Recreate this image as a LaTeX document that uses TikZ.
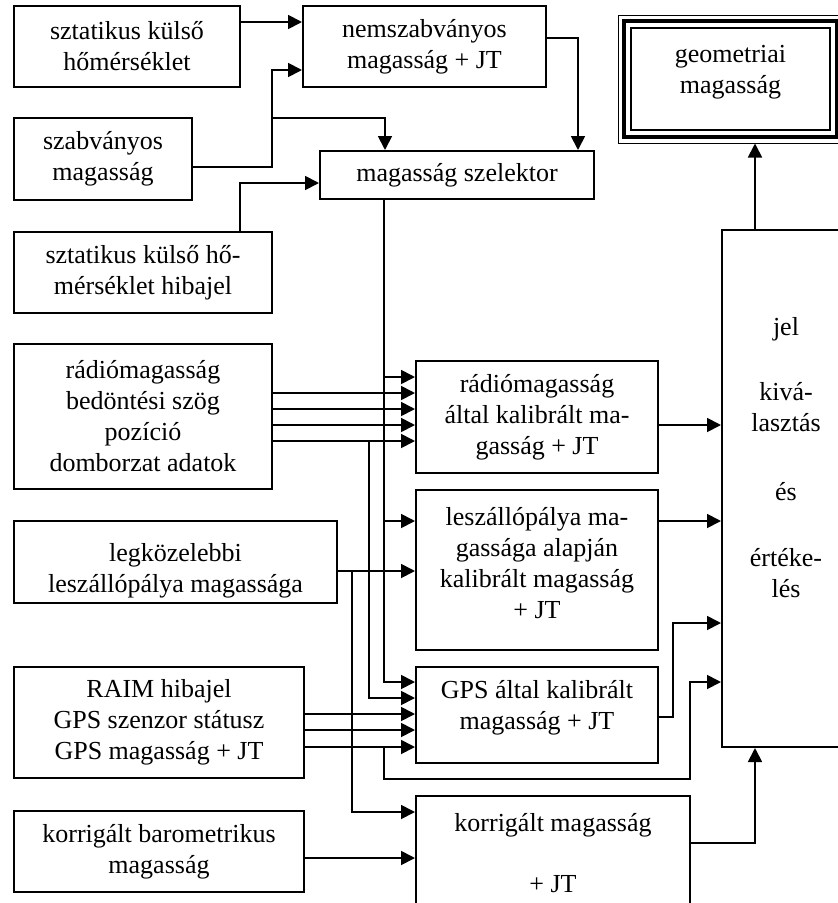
\documentclass[tikz,border=0pt]{standalone}
\usepackage{fontspec}
\setmainfont{Liberation Serif}
\usetikzlibrary{arrows.meta}
\begin{document}
\begin{tikzpicture}[x=1pt,y=-1pt,
  txt/.style={align=center, inner sep=0pt, font=\fontsize{26}{31}\selectfont},
  box/.style={txt, draw, line width=2pt},
  conn/.style={line width=1.8pt},
  arr/.style={conn, -{Triangle[length=14pt,width=14pt]}},
]
\useasboundingbox (0,0) rectangle (838,903);

% left column
\node[box, minimum width=226pt, minimum height=81pt] (s1) at (127,46.5) {sztatikus külső\\hőmérséklet};
\node[box, minimum width=178pt, minimum height=82pt] (s2) at (103,159) {szabványos\\magasság};
\node[box, minimum width=258pt, minimum height=81pt] (s3) at (143,272.5) {sztatikus külső hő-\\mérséklet hibajel};
\node[box, minimum width=258pt, minimum height=145pt] (radio) at (143,416.5) {rádiómagasság\\bedöntési szög\\pozíció\\domborzat adatok};
\node[box, minimum width=323pt, minimum height=82pt] (lsz) at (175.5,562) {};
\node[txt] (lsztext) at (175.5,571) {legközelebbi\\leszállópálya magassága};
\node[box, minimum width=290pt, minimum height=111pt] (gps) at (159,722.5) {RAIM hibajel\\GPS szenzor státusz\\GPS magasság + JT};
\node[box, minimum width=290pt, minimum height=81pt] (baro) at (159,851.5) {korrigált barometrikus\\magasság};

% middle column
\node[box, minimum width=243pt, minimum height=81pt] (ns) at (424.5,46.5) {nemszabványos\\magasság + JT};
\node[box, minimum width=274pt, minimum height=48pt] (sel) at (457,175) {magasság szelektor};
\node[box, minimum width=242pt, minimum height=112pt] (rcal) at (537,417) {rádiómagasság\\által kalibrált ma-\\gasság + JT};
\node[box, minimum width=242pt, minimum height=160pt] (lcal) at (537,570) {};
\node[txt] (lcaltext) at (537,563) {leszállópálya ma-\\gassága alapján\\kalibrált magasság\\+ JT};
\node[box, minimum width=242pt, minimum height=96pt] (gcal) at (537,715) {};
\node[txt] (gcaltext) at (537,708) {GPS által kalibrált\\magasság + JT};
\node[box, minimum width=274pt, minimum height=114pt] (korr) at (553,853) {korrigált magasság\\[30pt]+ JT};

% right column
\node[box, line width=1pt, minimum width=225pt, minimum height=128pt] (geo) at (730.5,79) {};
\draw[line width=4pt] ([shift={(6.5,6.5)}]geo.north west) rectangle ([shift={(-6.5,-6.5)}]geo.south east);
\draw[line width=1.2pt] ([shift={(13.5,13.5)}]geo.north west) rectangle ([shift={(-13.5,-13.5)}]geo.south east);
\node[txt] (geotext) at (730.5,72) {geometriai\\magasság};
\node[box, minimum width=128pt, minimum height=517pt] (jel) at (786,488.5) {};
\node[txt] (jeltext) at (786,458) {jel\\[34pt]kivá-\\lasztás\\[38pt]és\\[35pt]értéke-\\lés};

% top wiring
\draw[arr] (s1.east |- 0,22) -- (ns.west |- 0,22);
\draw[arr] (s2.east |- 0,167) -| (272,70) -- (ns.west |- 0,70);
\draw[arr] (272,118) -| (385,0 |- sel.north);
\draw[arr] (240,0 |- s3.north) |- (sel.west |- 0,183);
\draw[arr] (ns.east |- 0,38) -| (578,0 |- sel.north);

% selector output
\draw[arr] (384,0 |- sel.south) |- (gcal.west |- 0,682);
\draw[arr] (384,377) -- (rcal.west |- 0,377);
\draw[arr] (384,521) -- (lcal.west |- 0,521);

% radio inputs
\foreach \yy in {393,409,425,441} \draw[arr] (radio.east |- 0,\yy) -- (rcal.west |- 0,\yy);
\draw[arr] (369,441) |- (gcal.west |- 0,698);

% runway
\draw[arr] (lsz.east |- 0,571) -- (lcal.west |- 0,571);
\draw[arr] (352,571) |- (korr.west |- 0,812);

% gps
\foreach \yy in {714,730,747} \draw[arr] (gps.east |- 0,\yy) -- (gcal.west |- 0,\yy);
\draw[arr] (384,747) -- (384,779) -| (690,682) -- (jel.west |- 0,682);

% baro
\draw[arr] (baro.east |- 0,858) -- (korr.west |- 0,858);

% outputs
\draw[arr] (rcal.east |- 0,425) -- (jel.west |- 0,425);
\draw[arr] (lcal.east |- 0,521) -- (jel.west |- 0,521);
\draw[arr] (gcal.east |- 0,717) -| (673,623) -- (jel.west |- 0,623);
\draw[arr] (korr.east |- 0,843) -| (755,0 |- jel.south);
\draw[arr] (755,0 |- jel.north) -- (755,0 |- geo.south);
\end{tikzpicture}
\end{document}
